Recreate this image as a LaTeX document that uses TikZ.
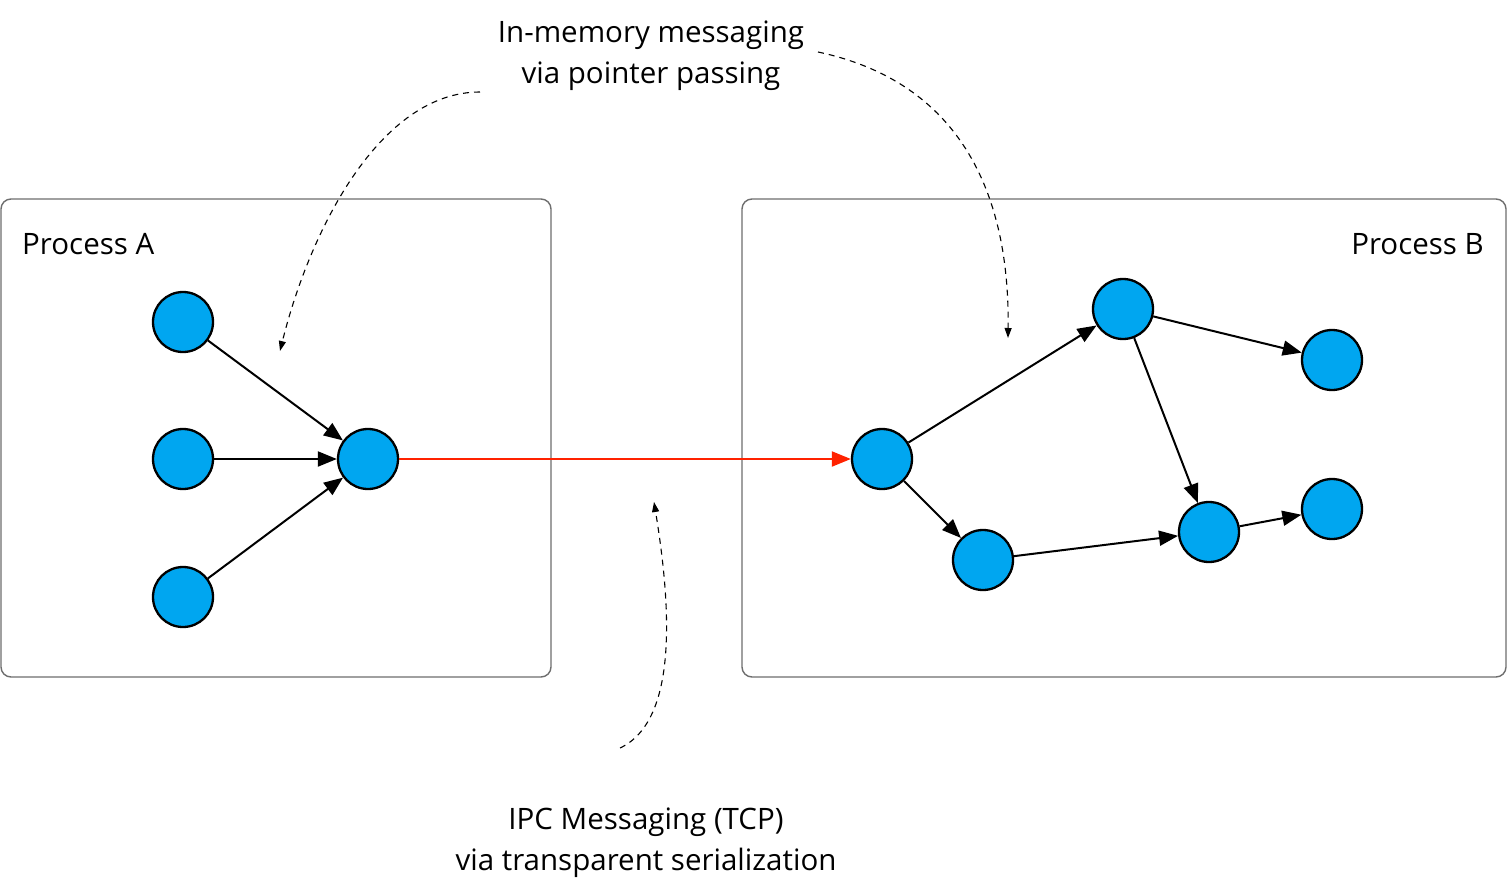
\documentclass[tikz,border=0pt]{standalone}
\usepackage{fontspec}
\setmainfont{Open Sans}
\usetikzlibrary{arrows.meta}
\definecolor{nodeblue}{RGB}{0,166,240}
\definecolor{redline}{RGB}{255,34,0}
\definecolor{boxgray}{RGB}{110,110,110}
\begin{document}
\begin{tikzpicture}[x=1pt,y=-1pt,
  proc/.style={draw=boxgray,line width=1.4pt,rounded corners=10pt},
  vert/.style={circle,draw=black,fill=nodeblue,line width=2.3pt,minimum size=60pt,inner sep=0pt},
  edge/.style={line width=2pt,-{Triangle[length=19pt,width=15pt]}},
  redge/.style={draw=redline,line width=2pt,-{Triangle[length=19pt,width=15pt]}},
  note/.style={draw=black,line width=1.1pt,dash pattern=on 6pt off 5pt,-{Triangle[length=10pt,width=7pt]}},
  lbl/.style={font=\fontsize{29.5}{30}\selectfont,inner sep=0pt},
  caption/.style={font=\fontsize{29.5}{41}\selectfont,align=center,inner sep=0pt}]
\useasboundingbox (0,0) rectangle (1508,891);
\fill[white] (0,0) rectangle (1508,891);

\draw[proc] (1,199) rectangle (551,677);
\draw[proc] (742,199) rectangle (1506,677);
\node[lbl,anchor=west] (pa) at (22,244) {Process A};
\node[lbl,anchor=east] (pb) at (1484,244) {Process B};

\node[vert] (a1) at (183,322) {};
\node[vert] (a2) at (183,459) {};
\node[vert] (a3) at (183,597) {};
\node[vert] (a4) at (368,459) {};

\node[vert] (b1) at (882,459) {};
\node[vert] (b2) at (1123,309) {};
\node[vert] (b3) at (1332,360) {};
\node[vert] (b4) at (983,560) {};
\node[vert] (b5) at (1209,532) {};
\node[vert] (b6) at (1332,509) {};

\draw[edge] (a1) -- (a4);
\draw[edge] (a2) -- (a4);
\draw[edge] (a3) -- (a4);
\draw[redge] (a4) -- (b1);
\draw[edge] (b1) -- (b2);
\draw[edge] (b1) -- (b4);
\draw[edge] (b2) -- (b3);
\draw[edge] (b2) -- (b5);
\draw[edge] (b4) -- (b5);
\draw[edge] (b5) -- (b6);

\node[caption] (top) at (651,56) {In-memory messaging\\via pointer passing};
\node[caption] (bot) at (646,843) {IPC Messaging (TCP)\\via transparent serialization};

\coordinate (s1) at (480,92);
\coordinate (e1) at (280,351);
\coordinate (s2) at (818,52);
\coordinate (e2) at (1008,338);
\coordinate (s3) at (620,748);
\coordinate (e3) at (654,502);
\draw[note] (s1) .. controls (380,92) and (310,230) .. (e1);
\draw[note] (s2) .. controls (950,80) and (1010,180) .. (e2);
\draw[note] (s3) .. controls (680,720) and (670,600) .. (e3);
\end{tikzpicture}
\end{document}
